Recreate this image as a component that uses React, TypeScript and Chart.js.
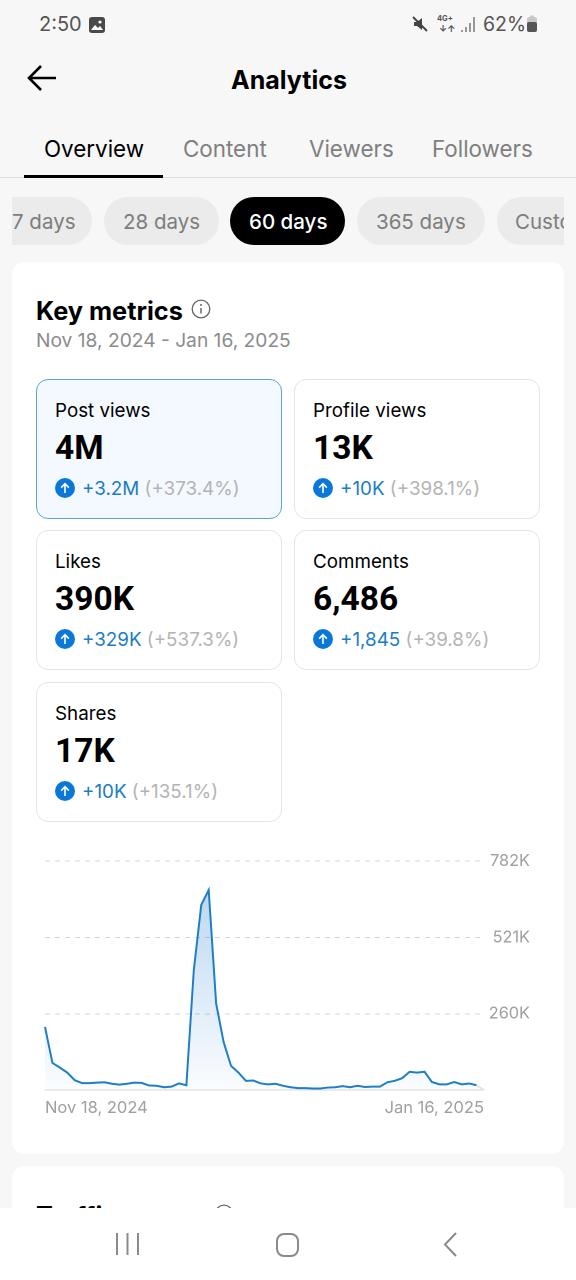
import React, { useEffect, useRef } from "react";
import { Chart, registerables } from "chart.js";

Chart.register(...registerables);

const days = [
  "Nov 18, 2024","Nov 19, 2024","Nov 20, 2024","Nov 21, 2024","Nov 22, 2024","Nov 23, 2024","Nov 24, 2024","Nov 25, 2024","Nov 26, 2024","Nov 27, 2024","Nov 28, 2024","Nov 29, 2024","Nov 30, 2024",
  "Dec 1, 2024","Dec 2, 2024","Dec 3, 2024","Dec 4, 2024","Dec 5, 2024","Dec 6, 2024","Dec 7, 2024","Dec 8, 2024","Dec 9, 2024","Dec 10, 2024","Dec 11, 2024","Dec 12, 2024","Dec 13, 2024","Dec 14, 2024","Dec 15, 2024","Dec 16, 2024","Dec 17, 2024","Dec 18, 2024","Dec 19, 2024","Dec 20, 2024","Dec 21, 2024","Dec 22, 2024","Dec 23, 2024","Dec 24, 2024","Dec 25, 2024","Dec 26, 2024","Dec 27, 2024","Dec 28, 2024","Dec 29, 2024","Dec 30, 2024","Dec 31, 2024",
  "Jan 1, 2025","Jan 2, 2025","Jan 3, 2025","Jan 4, 2025","Jan 5, 2025","Jan 6, 2025","Jan 7, 2025","Jan 8, 2025","Jan 9, 2025","Jan 10, 2025","Jan 11, 2025","Jan 12, 2025","Jan 13, 2025","Jan 14, 2025","Jan 15, 2025","Jan 16, 2025",
];
const postViewsK = [
  216,93,77,60,34,24,24,26,27,22,19,22,26,25,16,15,10,12,23,17,
  410,632,683,296,165,83,60,32,33,23,20,22,15,10,7,7,6,6,9,10,
  14,10,15,11,12,12,27,32,41,63,60,63,28,20,20,28,20,23,17,0,
];
const yTickValues = [0, 260.67, 521.33, 782];
const yTickLabels = ["", "260K", "521K", "782K"];

const FONT = "Inter, 'Noto Sans', sans-serif";

function T({ x, y, size, color = "#000", weight = 400, children, family }: any) {
  return (
    <div
      style={{
        position: "absolute",
        left: x,
        top: y - 30,
        height: 60,
        lineHeight: "60px",
        fontSize: size,
        color,
        fontWeight: weight,
        fontFamily: family || FONT,
        whiteSpace: "nowrap",
      }}
    >
      {children}
    </div>
  );
}

function Box({ x, y, w, h, bg, r = 0, border, children, clip }: any) {
  return (
    <div
      style={{
        position: "absolute",
        left: x,
        top: y,
        width: w,
        height: h,
        background: bg,
        borderRadius: r,
        border,
        boxSizing: "border-box",
        overflow: clip ? "hidden" : undefined,
      }}
    >
      {children}
    </div>
  );
}

function Metric({ x, y, h, label, value, delta, pct, active }: any) {
  return (
    <>
      <Box x={x} y={y} w={246} h={h} r={12} bg={active ? "#f3f9fe" : "#fff"} border={active ? "1px solid #5fa3d0" : "1px solid #e4e4e4"} />
      <T x={x + 19} y={y + 32} size={18.8}>{label}</T>
      <T x={x + 19} y={y + 69} size={33.5} weight={700} family="Roboto, sans-serif">{value}</T>
      <svg style={{ position: "absolute", left: x + 19, top: y + 99 }} width={20} height={20} viewBox="0 0 20 20">
        <circle cx="10" cy="10" r="10" fill="#0a78d8" />
        <path d="M10 15V6M6.2 9.6L10 5.6l3.8 4" fill="none" stroke="#fff" strokeWidth="1.6" />
      </svg>
      <T x={x + 46} y={y + 110} size={18.8}>
        <span style={{ color: "#1c7cc4" }}>{delta}</span>
        <span style={{ color: "#b4b4b4" }}> {pct}</span>
      </T>
    </>
  );
}

function PostViewsChart() {
  const ref = useRef<HTMLCanvasElement>(null);
  useEffect(() => {
    const canvas = ref.current!;
    const chart = new Chart(canvas, {
      type: "line",
      data: {
        labels: days,
        datasets: [
          {
            data: postViewsK,
            borderColor: "#1f7fc6",
            borderWidth: 2,
            pointRadius: 0,
            tension: 0,
            fill: "origin",
            backgroundColor: (ctx: any) => {
              const area = ctx.chart.chartArea;
              if (!area) return "transparent";
              const y = ctx.chart.scales.y;
              const g = ctx.chart.ctx.createLinearGradient(0, y.getPixelForValue(683), 0, y.getPixelForValue(0));
              g.addColorStop(0, "rgba(60,140,215,0.34)");
              g.addColorStop(1, "rgba(60,140,215,0.02)");
              return g;
            },
            segment: {
              borderColor: (ctx: any) => (ctx.p1DataIndex === days.length - 1 ? "#e4e4e4" : undefined),
            },
          },
        ],
      },
      options: {
        animation: false,
        responsive: false,
        devicePixelRatio: 2,
        layout: { padding: { left: 9, right: 6, top: 16, bottom: 0 } },
        plugins: { legend: { display: false }, tooltip: { enabled: false } },
        scales: {
          x: {
            grid: { display: false },
            border: { color: "#d8d8d8", width: 1 },
            ticks: {
              autoSkip: false,
              maxRotation: 0,
              align: "inner",
              padding: 0,
              color: "#9f9f9f",
              font: { family: FONT, size: 16.5 },
              callback: (_v: any, i: number) => (i === 0 || i === days.length - 1 ? days[i] : ""),
            },
          },
          y: {
            position: "right",
            min: 0,
            max: 782,
            afterBuildTicks: (s: any) => {
              s.ticks = yTickValues.map((value) => ({ value }));
            },
            afterFit: (s: any) => {
              s.width = 46;
            },
            grid: {
              color: (c: any) => (c.index === 0 ? "transparent" : "#d4d4d4"),
              drawTicks: false,
            },
            border: { display: false, dash: [5, 5] },
            ticks: {
              padding: 6,
              color: "#9f9f9f",
              crossAlign: "far",
              font: { family: FONT, size: 16.3 },
              callback: (_v: any, i: number) => yTickLabels[i],
            },
          },
        },
      },
    } as any);
    return () => chart.destroy();
  }, []);
  return <canvas ref={ref} width={500} height={273} style={{ position: "absolute", left: 36, top: 845, width: 500, height: 273 }} />;
}

export default function App() {
  useEffect(() => {
    document.body.style.margin = "0";
  }, []);
  return (
    <div style={{ position: "absolute", left: 0, top: 0, width: 576, height: 1280, overflow: "hidden", background: "#f7f7f7", fontFamily: FONT }}>
      {/* status bar */}
      <T x={39} y={24} size={20} color="#555">2:50</T>
      <svg style={{ position: "absolute", left: 88, top: 16 }} width={18} height={18} viewBox="0 0 18 18">
        <rect x="1" y="1" width="16" height="16" rx="3" fill="#4a4a4a" />
        <path d="M3 14l4-5 3 3 2-2 3 4z" fill="#fff" />
        <circle cx="12" cy="6" r="1.6" fill="#fff" />
      </svg>
      <svg style={{ position: "absolute", left: 411, top: 15 }} width={18} height={18} viewBox="0 0 18 18">
        <path d="M3 7h3l5-4v12l-5-4H3z" fill="#444" />
        <path d="M2 2l14 14" stroke="#444" strokeWidth="2" />
      </svg>
      <T x={437} y={19} size={7.5} weight={700} color="#555">4G+</T>
      <T x={439} y={29} size={9} weight={700} color="#555">↓↑</T>
      <svg style={{ position: "absolute", left: 461, top: 16 }} width={15} height={17} viewBox="0 0 15 17">
        <path d="M1 16v-2M5 16v-5M9 16V7M13 16V1" stroke="#666" strokeWidth="1.3" />
      </svg>
      <T x={483} y={24} size={19.5} color="#555">62%</T>
      <svg style={{ position: "absolute", left: 526, top: 15 }} width={12} height={18} viewBox="0 0 12 18">
        <rect x="1" y="2" width="10" height="15" rx="2" fill="#c8c8c8" />
        <rect x="1" y="7" width="10" height="10" rx="2" fill="#555" />
        <rect x="4" y="0.5" width="4" height="2" fill="#c8c8c8" />
      </svg>

      {/* header */}
      <svg style={{ position: "absolute", left: 27, top: 64 }} width={30} height={28} viewBox="0 0 30 28">
        <path d="M29 14H2M14 2L2 14l12 12" fill="none" stroke="#000" strokeWidth="2.6" />
      </svg>
      <T x={231} y={80} size={25} weight={700}>Analytics</T>

      {/* tabs */}
      <T x={44} y={149} size={22.4}>Overview</T>
      <T x={183} y={149} size={22.4} color="#808080">Content</T>
      <T x={309} y={149} size={22.4} color="#808080">Viewers</T>
      <T x={432} y={149} size={22.4} color="#808080">Followers</T>
      <Box x={0} y={177} w={576} h={1} bg="#dedede" />
      <Box x={24} y={175} w={139} h={2.5} bg="#000" />

      {/* range pills */}
      <Box x={12} y={197} w={552} h={48} clip>
        <Box x={-28} y={0} w={108} h={48} r={24} bg="#ebebeb" />
        <Box x={92} y={0} w={115} h={48} r={24} bg="#ebebeb" />
        <Box x={218} y={0} w={115} h={48} r={24} bg="#000" />
        <Box x={345} y={0} w={128} h={48} r={24} bg="#ebebeb" />
        <Box x={485} y={0} w={110} h={48} r={24} bg="#ebebeb" />
        <T x={0} y={25} size={20.5} color="#7d7d7d">7 days</T>
        <T x={111} y={25} size={20.5} color="#7d7d7d">28 days</T>
        <T x={237} y={25} size={20.5} color="#fff" weight={500}>60 days</T>
        <T x={364} y={25} size={20.5} color="#7d7d7d">365 days</T>
        <T x={503} y={25} size={20.5} color="#7d7d7d">Custom</T>
      </Box>

      {/* key metrics card */}
      <Box x={12} y={262} w={552} h={892} r={12} bg="#fff" />
      <T x={36} y={311} size={25.3} weight={700}>Key metrics</T>
      <svg style={{ position: "absolute", left: 191, top: 299 }} width={20} height={20} viewBox="0 0 20 20">
        <circle cx="10" cy="10" r="8.8" fill="none" stroke="#666" strokeWidth="1.3" />
        <path d="M10 9v5.5" stroke="#666" strokeWidth="1.5" />
        <circle cx="10" cy="6" r="1" fill="#666" />
      </svg>
      <T x={36} y={340} size={19.2} color="#8c8c8c">Nov 18, 2024 - Jan 16, 2025</T>

      <Metric x={36} y={379} h={140} label="Post views" value="4M" delta="+3.2M" pct="(+373.4%)" active />
      <Metric x={294} y={379} h={140} label="Profile views" value="13K" delta="+10K" pct="(+398.1%)" />
      <Metric x={36} y={530} h={140} label="Likes" value="390K" delta="+329K" pct="(+537.3%)" />
      <Metric x={294} y={530} h={140} label="Comments" value="6,486" delta="+1,845" pct="(+39.8%)" />
      <Metric x={36} y={682} h={140} label="Shares" value="17K" delta="+10K" pct="(+135.1%)" />

      <PostViewsChart />

      {/* next card */}
      <Box x={12} y={1166} w={552} h={120} r={12} bg="#fff" />
      <T x={36} y={1216} size={25.3} weight={700}>Traffic source</T>
      <svg style={{ position: "absolute", left: 214, top: 1204 }} width={20} height={20} viewBox="0 0 20 20">
        <circle cx="10" cy="10" r="8.8" fill="none" stroke="#666" strokeWidth="1.3" />
      </svg>

      {/* nav bar */}
      <Box x={0} y={1208} w={576} h={72} bg="#fff" />
      <svg style={{ position: "absolute", left: 110, top: 1230 }} width={360} height={32} viewBox="0 0 360 32">
        <path d="M7 3v22M17.5 3v22M28 3v22" stroke="#8a8a8a" strokeWidth="2" fill="none" />
        <rect x="167" y="4" width="21" height="22" rx="7" stroke="#8a8a8a" strokeWidth="2" fill="none" />
        <path d="M346 3l-11 11.5L346 26" stroke="#8a8a8a" strokeWidth="2" fill="none" />
      </svg>
    </div>
  );
}
